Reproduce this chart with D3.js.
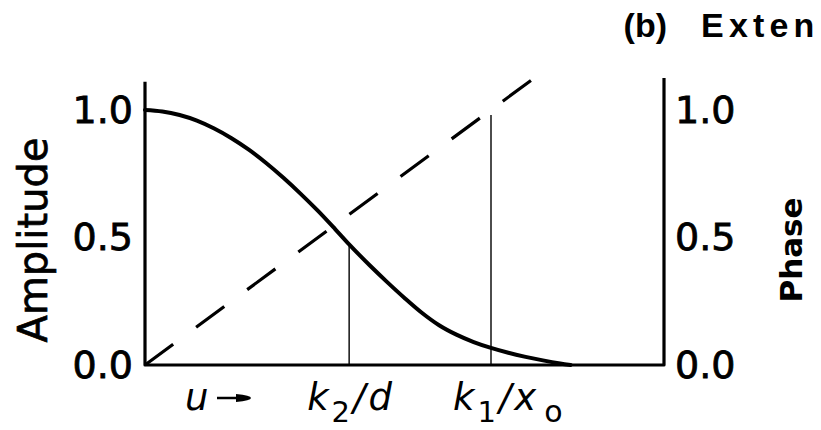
<!DOCTYPE html>
<html>
<head>
<meta charset="utf-8">
<script src="https://cdn.jsdelivr.net/npm/d3@7"></script>
<style>
  body { margin: 0; background: #fff; }
  svg { display: block; }
</style>
</head>
<body>
<svg id="chart" width="821" height="430"></svg>
<script>
// Amplitude response (solid curve) against normalised frequency u
const ampU = [0, 0.05, 0.1, 0.15, 0.2, 0.25, 0.3, 0.35, 0.4, 0.45, 0.5, 0.55, 0.59, 0.65,
              0.7, 0.75, 0.8, 0.85, 0.9, 0.95, 1.0, 1.05, 1.1, 1.15, 1.2, 1.23];
const ampV = [1.0, 0.994, 0.98, 0.958, 0.927, 0.889, 0.844, 0.792, 0.734, 0.671, 0.604, 0.532, 0.473, 0.39,
              0.325, 0.263, 0.205, 0.156, 0.119, 0.09, 0.067, 0.048, 0.032, 0.018, 0.006, 0.0];

// Phase (dashed line) grows linearly with u
const phaseU = [0, 1.117];
const phaseV = [0, 1.117];

// Marked frequencies: position on u, height of the thin marker line
const markU = [0.59, 1.0];
const markTop = [0.473, 0.98];
// Marker labels as [text, isSubscript] pieces
const markLabels = [
  [["k", false], ["2", true], ["/d", false]],
  [["k", false], ["1", true], ["/x", false], ["o", true]]
];

// Axis ticks and extents
const yTicks = [0, 0.5, 1.0];
const uMax = 1.5;
const leftTop = 1.11;
const rightTop = 1.125;

const svg = d3.select("#chart");
svg.append("rect").attr("width", 821).attr("height", 430).attr("fill", "#fff");

const x = d3.scaleLinear().domain([0, uMax]).range([145, 664]);
const y = d3.scaleLinear().domain([0, rightTop]).range([365, 78]);

const numFont = "'DejaVu Sans', sans-serif";

// Left amplitude tick labels
const axL = svg.append("g")
  .attr("transform", `translate(${x(0)},0)`)
  .call(d3.axisLeft(y).tickValues(yTicks).tickSize(0).tickPadding(12).tickFormat(d3.format(".1f")));
axL.select(".domain").remove();
axL.selectAll("text")
  .attr("font-family", numFont).attr("font-size", 38)
  .attr("fill", "#000").attr("stroke", "#000").attr("stroke-width", 0.8);

// Right phase tick labels
const axR = svg.append("g")
  .attr("transform", `translate(${x(uMax)},0)`)
  .call(d3.axisRight(y).tickValues(yTicks).tickSize(0).tickPadding(11).tickFormat(d3.format(".1f")));
axR.select(".domain").remove();
axR.selectAll("text")
  .attr("font-family", numFont).attr("font-size", 38)
  .attr("fill", "#000").attr("stroke", "#000").attr("stroke-width", 0.8);

// Frame: left axis, baseline, right axis
const frame = [[0, leftTop], [0, 0], [uMax, 0], [uMax, rightTop]];
svg.append("path")
  .attr("d", d3.line().x(d => x(d[0])).y(d => y(d[1]))(frame))
  .attr("fill", "none").attr("stroke", "#000").attr("stroke-width", 3.2)
  .attr("stroke-linejoin", "round");

// Thin marker lines
svg.append("g").selectAll("line")
  .data(markU.map((u, i) => ({ u, top: markTop[i] })))
  .join("line")
  .attr("x1", d => x(d.u)).attr("x2", d => x(d.u))
  .attr("y1", y(0)).attr("y2", d => y(d.top))
  .attr("stroke", "#000").attr("stroke-width", 1.4);

// Phase (dashed)
svg.append("path")
  .attr("d", d3.line().x(d => x(d[0])).y(d => y(d[1]))(phaseU.map((u, i) => [u, phaseV[i]])))
  .attr("fill", "none").attr("stroke", "#000").attr("stroke-width", 3.2)
  .attr("stroke-dasharray", "35,28.5");

// Amplitude (solid)
svg.append("path")
  .attr("d", d3.line().curve(d3.curveMonotoneX).x(d => x(d[0])).y(d => y(d[1]))(ampU.map((u, i) => [u, ampV[i]])))
  .attr("fill", "none").attr("stroke", "#000").attr("stroke-width", 4)
  .attr("stroke-linecap", "round");

// Axis titles
svg.append("text")
  .attr("transform", "translate(47,240) rotate(-90)")
  .attr("text-anchor", "middle")
  .attr("font-family", numFont).attr("font-size", 40)
  .attr("fill", "#000").attr("stroke", "#000").attr("stroke-width", 0.7)
  .text("Amplitude");

svg.append("text")
  .attr("transform", "translate(802,250) rotate(-90)")
  .attr("text-anchor", "middle")
  .attr("font-family", numFont).attr("font-size", 31).attr("font-weight", "bold")
  .attr("fill", "#000")
  .text("Phase");

// Panel heading
const headFont = "'Liberation Sans', Arial, sans-serif";
svg.append("text")
  .attr("x", 667).attr("y", 37).attr("text-anchor", "end")
  .attr("font-family", headFont).attr("font-size", 34).attr("font-weight", "bold")
  .attr("fill", "#000").text("(b)");
svg.append("text")
  .attr("x", 701).attr("y", 37)
  .attr("font-family", headFont).attr("font-size", 34).attr("font-weight", "bold")
  .attr("letter-spacing", 5.2)
  .attr("fill", "#000").text("Exten");

// Frequency axis labels
const labelBase = 410;
svg.append("text")
  .attr("x", 185).attr("y", labelBase)
  .attr("font-family", numFont).attr("font-size", 37).attr("font-style", "italic")
  .attr("fill", "#000").text("u");
svg.append("line")
  .attr("x1", 217).attr("x2", 240).attr("y1", 398).attr("y2", 398)
  .attr("stroke", "#000").attr("stroke-width", 2.5);
svg.append("path")
  .attr("d", "M236,394 Q251,395.5 251,398 Q251,400.5 236,402 Z")
  .attr("fill", "#000");

const labelOffset = [-42, -38];
markLabels.forEach((parts, i) => {
  const t = svg.append("text")
    .attr("x", x(markU[i]) + labelOffset[i]).attr("y", labelBase)
    .attr("font-family", numFont).attr("font-size", 37)
    .attr("letter-spacing", 3)
    .attr("fill", "#000");
  let shifted = false;
  parts.forEach(([txt, sub]) => {
    const ts = t.append("tspan").text(txt);
    if (sub && !shifted) { ts.attr("dy", 12); shifted = true; }
    if (!sub && shifted) { ts.attr("dy", -12); shifted = false; }
    if (sub) ts.attr("font-size", txt === "o" ? 30 : 29);
    else ts.attr("font-style", "italic");
    if (txt === "o") ts.attr("dx", 5);
  });
});
</script>
</body>
</html>
